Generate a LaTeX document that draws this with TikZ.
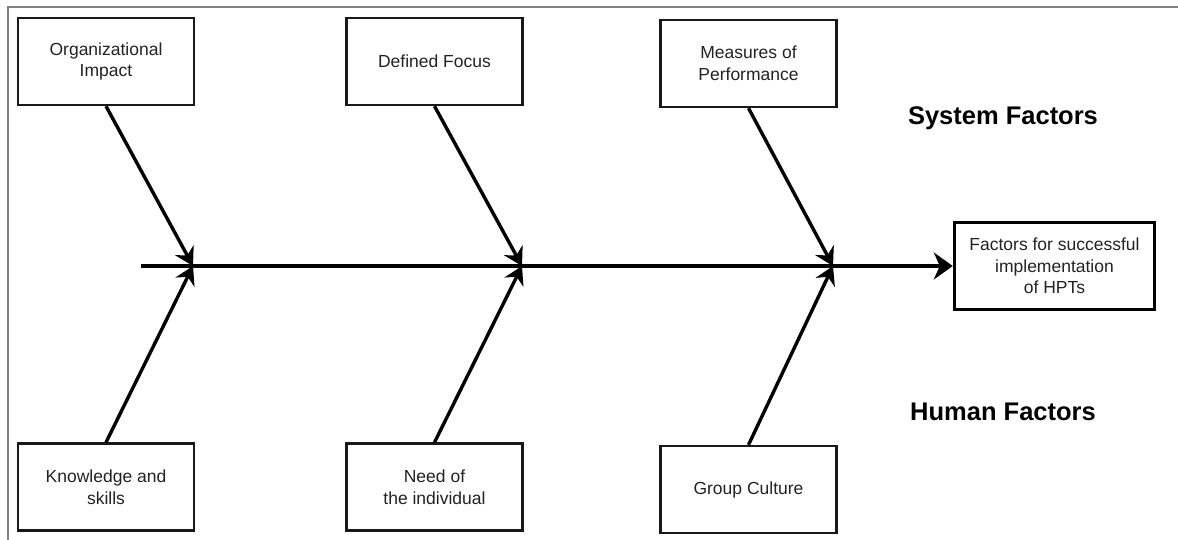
\documentclass[tikz,border=0pt]{standalone}
\usepackage{fontspec}
\setmainfont{Liberation Sans}
\usetikzlibrary{arrows.meta}
\definecolor{txt}{HTML}{222222}
\begin{document}
\begin{tikzpicture}[x=1pt,y=-1pt,
  cause/.style={draw=black!90, line width=2.3pt, minimum width=176pt, minimum height=87pt,
    align=center, text=txt, inner sep=0pt,
    font=\fontsize{17.5pt}{21.5pt}\selectfont},
  effect/.style={draw=black, line width=3.4pt, minimum width=200pt, minimum height=87pt,
    align=center, text=txt, inner sep=0pt,
    font=\fontsize{17.5pt}{21.5pt}\selectfont},
  group/.style={font=\fontsize{25.5pt}{30pt}\selectfont\bfseries, text=black},
  bone/.style={line width=3.4pt, -{Stealth[length=18pt, width=21pt, inset=6pt]}},
  spine/.style={line width=4.4pt, -{Stealth[length=19pt, width=27pt, inset=6pt]}}]
  \useasboundingbox (0,0) rectangle (1178,540);
  % frame edges
  \draw[gray, line width=1.5pt] (8,540) -- (8,7) -- (1178,7);

  % cause boxes
  \node[cause] (org)  at (106,61.5)  {Organizational\\Impact};
  \node[cause] (foc)  at (434.5,61.5) {Defined Focus};
  \node[cause] (meas) at (748.5,63.5) {Measures of\\Performance};
  \node[cause] (know) at (106,487)   {Knowledge and\\skills};
  \node[cause] (need) at (434.5,487) {Need of\\the individual};
  \node[cause] (cult) at (748.5,489.5) {Group Culture};

  % effect box
  \node[effect] (res) at (1054.5,266) {Factors for successful\\implementation\\of HPTs};

  % group labels
  \node[group] (sys) at (1003,118) {System Factors};
  \node[group] (hum) at (1003,412) {Human Factors};

  % spine and joints
  \coordinate (tail) at (141,266);
  \coordinate (j1) at (193,266);
  \coordinate (j2) at (522,266);
  \coordinate (j3) at (833,266);
  \draw[spine] (tail) -- (res.west);

  % bones
  \draw[bone] (org.south) -- (j1);
  \draw[bone] (know.north) -- (j1);
  \draw[bone] (foc.south) -- (j2);
  \draw[bone] (need.north) -- (j2);
  \draw[bone] (meas.south) -- (j3);
  \draw[bone] (cult.north) -- (j3);
\end{tikzpicture}
\end{document}
